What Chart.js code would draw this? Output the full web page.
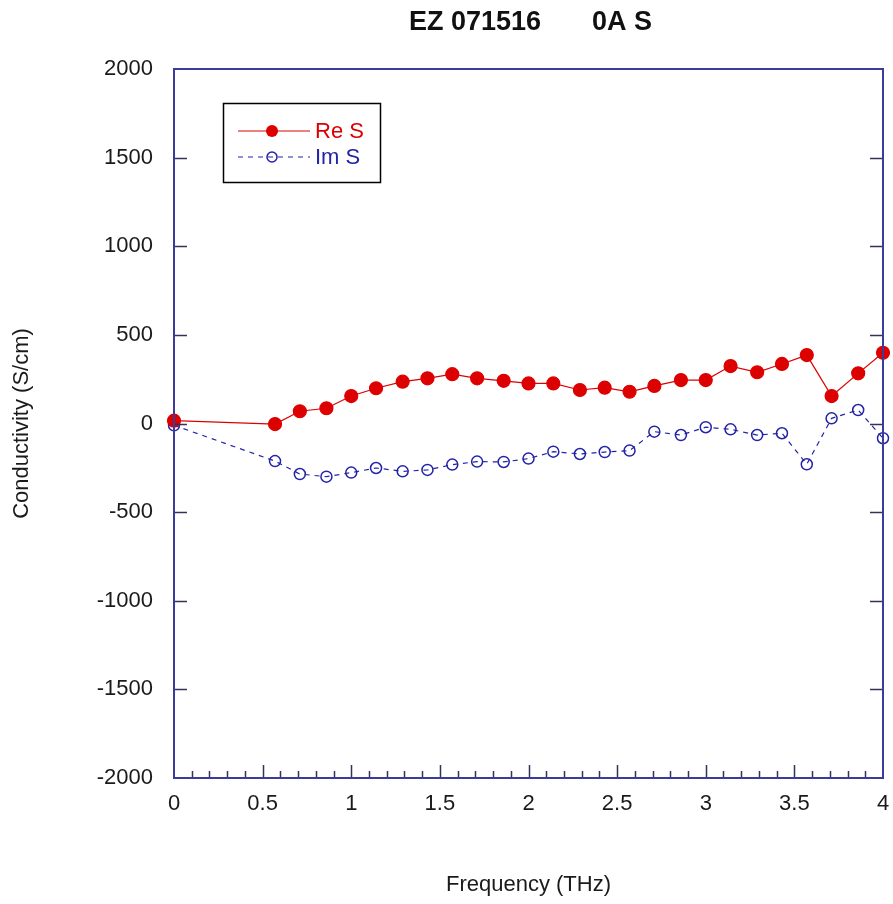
<!DOCTYPE html>
<html>
<head>
<meta charset="utf-8">
<title>EZ 071516 0A S</title>
<script src="https://cdn.jsdelivr.net/npm/chart.js@4.4.1/dist/chart.umd.min.js"></script>
<style>
  html, body { margin: 0; padding: 0; background: #fff; }
  #wrap { width: 893px; height: 904px; position: relative; }
</style>
</head>
<body>
<div id="wrap"><canvas id="chart"></canvas></div>
<script>
// --- DATA ---
const FREQ = [0, 0.57, 0.71, 0.86, 1.0, 1.14, 1.29, 1.43, 1.57, 1.71, 1.86, 2.0, 2.14, 2.29, 2.43, 2.57, 2.71, 2.86, 3.0, 3.14, 3.29, 3.43, 3.57, 3.71, 3.86, 4.0];
const RE_S = [16, -3, 69, 86, 155, 199, 236, 255, 278, 255, 241, 226, 226, 189, 202, 179, 212, 245, 245, 324, 289, 336, 386, 155, 283, 399];
const IM_S = [-10, -212, -285, -300, -277, -251, -270, -262, -232, -215, -217, -198, -159, -172, -161, -153, -46, -65, -21, -33, -65, -55, -230, 29, 76, -83];
const SERIES_NAMES = ['Re S', 'Im S'];
const TITLE_PARTS = ['EZ 071516', '0A S'];
const X_TICKS = [0, 0.5, 1, 1.5, 2, 2.5, 3, 3.5, 4];
const Y_TICKS = [-2000, -1500, -1000, -500, 0, 500, 1000, 1500, 2000];
// --- END DATA ---

const FONT = '"Liberation Sans", Arial, sans-serif';
const RED = '#dd0000';
const BLUE = '#2323a8';
const FRAME = '#3b3b9a';

const toPoints = vals => vals.map((v, i) => ({ x: FREQ[i], y: v }));

// frame, inward ticks, title and the boxed legend
const decor = {
  id: 'decor',
  afterDatasetsDraw(chart) {
    const { ctx, chartArea: a, scales: { x, y } } = chart;
    ctx.save();
    ctx.strokeStyle = '#33335a';
    ctx.lineWidth = 1.5;
    ctx.beginPath();
    Y_TICKS.slice(1, -1).forEach(v => {
      const py = Math.round(y.getPixelForValue(v)) + 0.5;
      ctx.moveTo(a.left, py); ctx.lineTo(a.left + 13, py);
      ctx.moveTo(a.right, py); ctx.lineTo(a.right - 13, py);
    });
    for (let i = 1; i < 40; i++) {
      const px = Math.round(x.getPixelForValue(i / 10)) + 0.5;
      ctx.moveTo(px, a.bottom);
      ctx.lineTo(px, a.bottom - (i % 5 === 0 ? 13 : 7));
    }
    ctx.stroke();

    ctx.strokeStyle = FRAME;
    ctx.lineWidth = 2;
    ctx.strokeRect(a.left, a.top, a.right - a.left, a.bottom - a.top);

    // title
    ctx.fillStyle = '#111';
    ctx.font = 'bold 27px ' + FONT;
    ctx.textBaseline = 'middle';
    ctx.textAlign = 'left';
    ctx.fillText(TITLE_PARTS[0], 409, 23);
    ctx.fillText(TITLE_PARTS[1], 592, 23);

    // legend
    ctx.strokeStyle = '#000';
    ctx.lineWidth = 1.5;
    ctx.strokeRect(223.5, 103.5, 157, 79);
    const rows = [
      { y: 131, color: RED, dash: [], filled: true },
      { y: 157, color: BLUE, dash: [5, 5], filled: false }
    ];
    rows.forEach((r, i) => {
      ctx.strokeStyle = r.color;
      ctx.lineWidth = 1;
      ctx.setLineDash(r.dash);
      ctx.beginPath();
      ctx.moveTo(238, r.y); ctx.lineTo(310, r.y);
      ctx.stroke();
      ctx.setLineDash([]);
      ctx.beginPath();
      ctx.arc(272, r.y, r.filled ? 6 : 5, 0, Math.PI * 2);
      if (r.filled) { ctx.fillStyle = r.color; ctx.fill(); }
      else { ctx.lineWidth = 1.5; ctx.stroke(); }
      ctx.fillStyle = r.color;
      ctx.font = '22px ' + FONT;
      ctx.fillText(SERIES_NAMES[i], 315, r.y + 1);
    });
    ctx.restore();
  }
};

new Chart(document.getElementById('chart'), {
  type: 'scatter',
  data: {
    datasets: [{
      label: SERIES_NAMES[0],
      data: toPoints(RE_S),
      showLine: true,
      borderColor: RED,
      borderWidth: 1.2,
      backgroundColor: RED,
      pointBackgroundColor: RED,
      pointBorderColor: RED,
      pointRadius: 6.5,
      clip: false
    }, {
      label: SERIES_NAMES[1],
      data: toPoints(IM_S),
      showLine: true,
      borderColor: BLUE,
      borderWidth: 1.2,
      borderDash: [5, 5],
      pointBackgroundColor: 'rgba(0,0,0,0)',
      pointBorderColor: BLUE,
      pointBorderWidth: 1.5,
      pointRadius: 5.5,
      clip: false
    }]
  },
  options: {
    responsive: true,
    maintainAspectRatio: false,
    animation: false,
    layout: { padding: { top: 69, right: 10, left: 0, bottom: 0 } },
    plugins: { legend: { display: false }, tooltip: { enabled: false } },
    scales: {
      x: {
        type: 'linear', min: 0, max: 4,
        afterBuildTicks: s => { s.ticks = X_TICKS.map(v => ({ value: v })); },
        afterFit: s => { s.height = 126; s.paddingRight = 0; },
        grid: { display: false, drawTicks: false, tickLength: 0 },
        border: { display: false },
        ticks: { color: '#1a1a1a', padding: 13, maxRotation: 0, font: { family: FONT, size: 22 }, callback: v => String(v) },
        title: { display: true, text: 'Frequency (THz)', color: '#1a1a1a', font: { family: FONT, size: 22 }, padding: { top: 0, bottom: 6 } }
      },
      y: {
        min: -2000, max: 2000,
        afterBuildTicks: s => { s.ticks = Y_TICKS.map(v => ({ value: v })); },
        afterFit: s => { s.width = 174; s.paddingTop = 0; s.paddingBottom = 0; },
        grid: { display: false, drawTicks: false, tickLength: 0 },
        border: { display: false },
        ticks: { color: '#1a1a1a', padding: 21, font: { family: FONT, size: 22 }, callback: v => String(v) },
        title: { display: true, text: 'Conductivity (S/cm)', color: '#1a1a1a', font: { family: FONT, size: 22 }, padding: { top: 9, bottom: 0 } }
      }
    }
  },
  plugins: [decor]
});
</script>
</body>
</html>
